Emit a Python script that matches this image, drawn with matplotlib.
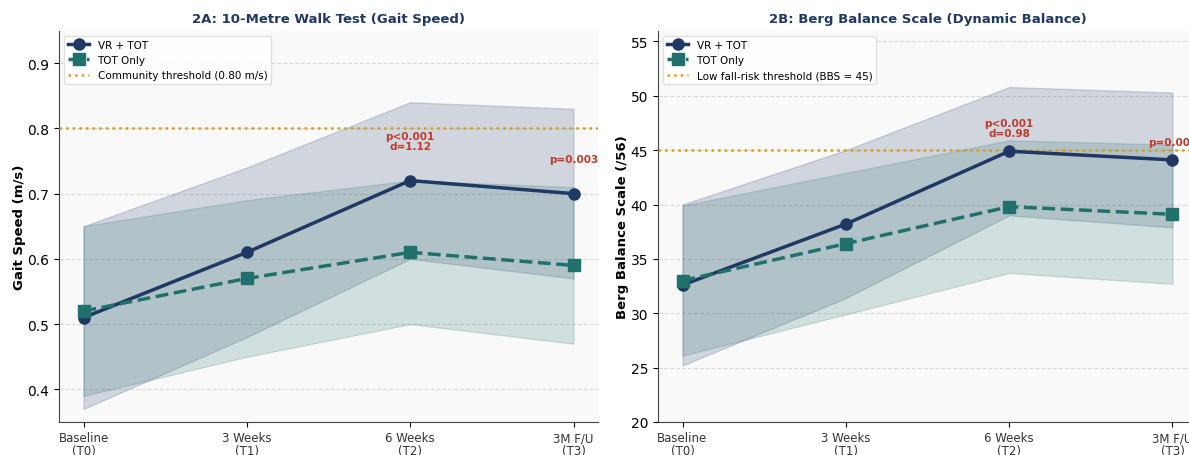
import matplotlib
matplotlib.use("Agg")
import matplotlib.pyplot as plt
import numpy as np

timepoints = ["Baseline\n(T0)", "3 Weeks\n(T1)", "6 Weeks\n(T2)", "3M F/U\n(T3)"]

# 10MWT gait speed (m/s), mean and SD per group
gait_vr = [0.51, 0.61, 0.72, 0.70]
gait_vr_sd = [0.14, 0.13, 0.12, 0.13]
gait_tot = [0.52, 0.57, 0.61, 0.59]
gait_tot_sd = [0.13, 0.12, 0.11, 0.12]

# Berg Balance Scale, mean and SD per group
bbs_vr = [32.6, 38.2, 44.9, 44.1]
bbs_vr_sd = [7.4, 6.8, 5.9, 6.2]
bbs_tot = [33.0, 36.4, 39.8, 39.1]
bbs_tot_sd = [6.9, 6.5, 6.1, 6.4]

gait_notes = {2: "p<0.001\nd=1.12", 3: "p=0.003"}
bbs_notes = {2: "p<0.001\nd=0.98", 3: "p=0.003"}

NAVY = "#1f3864"
TEAL = "#20706b"
GOLD = "#d4a017"
RED = "#c0392b"

fig = plt.figure(figsize=(11.89, 4.56), dpi=100)
W, H = 1189, 456
ax1 = fig.add_axes([59 / W, (H - 423) / H, 539 / W, 391.5 / H])
ax2 = fig.add_axes([658 / W, (H - 423) / H, 539 / W, 391.5 / H])


def panel(ax, vr, vr_sd, tot, tot_sd, thr, thr_label, notes, note_off,
          title, ylabel, ylim, yticks):
    x = np.arange(len(timepoints))
    vr = np.array(vr); vr_sd = np.array(vr_sd)
    tot = np.array(tot); tot_sd = np.array(tot_sd)
    ax.set_facecolor("#f9f9f9")
    ax.fill_between(x, vr - vr_sd, vr + vr_sd, color=NAVY, alpha=0.18, lw=1)
    ax.fill_between(x, tot - tot_sd, tot + tot_sd, color=TEAL, alpha=0.18, lw=1)
    ax.plot(x, vr, "-o", color=NAVY, lw=2.5, ms=8, label="VR + TOT", zorder=4)
    ax.plot(x, tot, "--s", color=TEAL, lw=2.5, ms=8, label="TOT Only", zorder=4)
    ax.axhline(thr, color=GOLD, ls=":", lw=1.8, label=thr_label, zorder=3)
    for i, txt in notes.items():
        ax.text(x[i], vr[i] + note_off, txt, ha="center", va="bottom",
                color=RED, fontsize=7.5, fontweight="bold", linespacing=1.0)
    ax.set_xlim(-0.15, 3.15)
    ax.set_ylim(*ylim)
    ax.set_yticks(yticks)
    ax.set_xticks(x)
    ax.set_xticklabels(timepoints, fontsize=8.5, color="#333333", linespacing=1.0)
    ax.tick_params(axis="y", labelsize=10)
    ax.tick_params(axis="x", pad=3)
    ax.set_title(title, fontsize=9.5, fontweight="bold", color=NAVY, pad=6)
    ax.set_ylabel(ylabel, fontsize=9.5, fontweight="bold", labelpad=1)
    ax.grid(axis="y", ls="--", color="#cccccc", alpha=0.7, lw=0.8)
    ax.set_axisbelow(True)
    for s in ("top", "right"):
        ax.spines[s].set_visible(False)
    for s in ("left", "bottom"):
        ax.spines[s].set_color("#444444")
    ax.legend(loc="upper left", fontsize=7.5, framealpha=0.9, edgecolor="#dddddd")


panel(ax1, gait_vr, gait_vr_sd, gait_tot, gait_tot_sd, 0.80,
      "Community threshold (0.80 m/s)", gait_notes, 0.045,
      "2A: 10-Metre Walk Test (Gait Speed)", "Gait Speed (m/s)",
      (0.35, 0.95), [0.4, 0.5, 0.6, 0.7, 0.8, 0.9])
panel(ax2, bbs_vr, bbs_vr_sd, bbs_tot, bbs_tot_sd, 45,
      "Low fall-risk threshold (BBS = 45)", bbs_notes, 1.2,
      "2B: Berg Balance Scale (Dynamic Balance)", "Berg Balance Scale (/56)",
      (20, 56), [20, 25, 30, 35, 40, 45, 50, 55])

fig.savefig("out.png", dpi=100)
